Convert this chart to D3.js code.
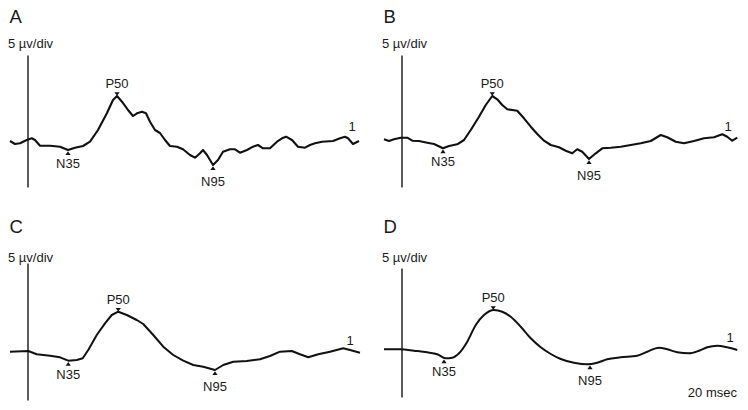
<!DOCTYPE html>
<html>
<head>
<meta charset="utf-8">
<script src="https://cdn.jsdelivr.net/npm/d3@7"></script>
<style>
  html, body { margin: 0; padding: 0; background: #fff; }
  svg { display: block; }
  text { font-family: "Liberation Sans", Arial, sans-serif; fill: #1a1a1a; }
</style>
</head>
<body>
<svg id="chart" width="748" height="410"></svg>
<script>
// ---- Data (time in msec, amplitude in µV) ----
const panelNames = ["A", "B", "C", "D"];
const scaleLabel = "5 µv/div";
const timeLabel = "20 msec";
const peakNames = ["N35", "P50", "N95"];
const traceLabel = "1";

const timeA = [10,12,14,16.7,18.7,20,22,26,30,33.2,36,39.2,42,45.2,48.8,51.2,52.8,54.8,57.2,59.2,60.8,62.8,64.4,66,68,70,72,74,76.8,79.2,82,84,86,87.2,88.8,91.2,93.2,95.2,98,100,102,104.8,107.2,109.2,111.2,114,116.8,118.8,120.4,122.8,125.2,128,130,132,134.8,139.2,142,144,145.2,147.2,149.6];
const ampA  = [0,-0.3,-0.23,0.1,0.27,0.1,-0.47,-0.47,-0.57,-0.9,-0.67,-0.5,-0.07,1.1,2.8,4.1,4.5,3.93,3.1,2.5,2.77,2.93,2.77,1.93,1.1,0.8,0.1,-0.5,-0.57,-0.83,-1.4,-1.67,-1.23,-0.9,-1.4,-2.4,-1.9,-1.07,-0.83,-0.83,-1.17,-0.9,-0.57,-0.4,-0.73,-0.73,-0.07,0.27,0.43,0.1,-0.57,-0.67,-0.4,-0.23,-0.07,0,0.27,0.43,0.27,-0.3,0];

const timeB = [10,12,14,16.7,19.3,21.3,24,27.3,30,33.6,36,39.3,42,44.7,48,50.7,53.3,55.3,57.3,59.3,63.3,66,68.7,71.3,74,76.7,80,82.7,85.3,87.3,89.3,92,94.7,97.3,100.7,104.7,108.7,112.7,116.7,120.7,123.3,126.7,130,134,138,142,145.3,147.3,149.3,151.3];
const ampB  = [0,-0.17,0,0.16,0.16,-0.14,-0.17,-0.34,-0.47,-0.9,-0.67,-0.5,-0.07,0.93,2.26,3.43,4.33,4.0,3.43,3.0,2.86,2.1,1.26,0.53,-0.14,-0.57,-0.8,-1.14,-1.4,-1.0,-1.24,-1.97,-1.4,-0.9,-0.84,-0.74,-0.57,-0.4,-0.17,0.43,0.2,-0.24,-0.4,-0.17,0.1,0.2,0.5,0.26,-0.14,0.16];

const timeC = [10,17.3,20.7,26,30,33.3,36.7,39.1,41.3,44.7,48,50.7,53.3,56.7,60.7,63.3,67.3,71.3,75.3,79.3,83.3,87.3,92,95.3,99.3,104.7,110,114,118,122.7,126,129.3,133.3,138,143.3,146,150];
const ampC  = [0,0.07,-0.26,-0.4,-0.56,-0.9,-0.83,-0.66,0.17,1.67,2.84,3.67,4.0,3.67,3.17,2.77,1.67,0.5,-0.33,-0.9,-1.33,-1.5,-1.83,-1.33,-1.0,-0.93,-0.76,-0.43,0,0.07,-0.26,-0.56,-0.26,0,0.34,0.17,-0.1];

const timeD = [10,16.7,22,27.3,31.3,34.7,37.3,40,43.3,46.7,50,54,57.3,60.7,64.7,68.7,72.7,76.7,80.7,86,91.3,95.3,99.3,104.7,111.3,115.3,120,123.3,127.3,132,136,139.3,143.3,147.3,151.3];
const ampD  = [0,0,-0.14,-0.3,-0.5,-0.9,-0.84,-0.4,0.76,2.43,3.43,3.93,3.76,3.26,2.26,1.1,0.2,-0.47,-0.97,-1.34,-1.5,-1.34,-1.0,-0.8,-0.64,-0.24,0.16,0,-0.3,-0.4,-0.14,0.2,0.36,0.2,-0.07];

// peak latencies / amplitudes in order N35, P50, N95
const peakTimeA = [33.2, 52.8, 91.2];  const peakAmpA = [-0.9, 4.5, -2.4];
const peakTimeB = [33.6, 53.3, 92.0];  const peakAmpB = [-0.9, 4.33, -1.97];
const peakTimeC = [33.3, 53.3, 92.0];  const peakAmpC = [-0.9, 4.0, -1.83];
const peakTimeD = [34.0, 53.7, 92.4];  const peakAmpD = [-0.9, 3.93, -1.5];

// trace number label positions (msec, µV)
const labelTime = [146.8, 147.6, 146.0, 148.4];
const labelAmp  = [1.0, 0.83, 0.67, 0.73];
const axisTime = 17;   // time of the vertical amplitude axis

// ---- Layout ----
const svg = d3.select("#chart");
const layouts = [
  { ox: 0,   oy: 0,   base: 141,   lineTop: 55,  lineBot: 187, curve: d3.curveLinear,  sw: 2.1 },
  { ox: 374, oy: 0,   base: 139.3, lineTop: 55,  lineBot: 187, curve: d3.curveLinear,  sw: 2.1 },
  { ox: 0,   oy: 210, base: 351.7, lineTop: 263, lineBot: 400, curve: d3.curveLinear,  sw: 2.0 },
  { ox: 374, oy: 210, base: 349.3, lineTop: 268, lineBot: 397, curve: d3.curveMonotoneX, sw: 2.0 }
];
const times = [timeA, timeB, timeC, timeD];
const amps = [ampA, ampB, ampC, ampD];
const pTimes = [peakTimeA, peakTimeB, peakTimeC, peakTimeD];
const pAmps = [peakAmpA, peakAmpB, peakAmpC, peakAmpD];

layouts.forEach((L, i) => {
  const x = d3.scaleLinear().domain([6, 146]).range([L.ox, L.ox + 350]);
  const y = d3.scaleLinear().domain([0, 1]).range([L.base, L.base - 10]);
  const g = svg.append("g");

  // panel letter
  g.append("text").attr("x", L.ox + 9.5).attr("y", L.oy + 23)
    .attr("font-size", 18.5).text(panelNames[i]);

  // scale label
  g.append("text").attr("x", L.ox + 8).attr("y", L.oy + (i < 2 ? 48 : 52))
    .attr("font-size", 13).text(scaleLabel);

  // vertical amplitude axis (no ticks)
  const yAxisScale = d3.scaleLinear().domain([0, 1]).range([L.lineBot, L.lineTop]);
  g.append("g")
    .attr("transform", `translate(${x(axisTime)},0)`)
    .call(d3.axisLeft(yAxisScale).tickValues([]).tickSizeOuter(0))
    .call(s => s.select(".domain").attr("stroke", "#333").attr("stroke-width", 1.6));

  // trace
  const pts = times[i].map((t, k) => [t, amps[i][k]]);
  const line = d3.line().x(d => x(d[0])).y(d => y(d[1])).curve(L.curve);
  g.append("path").datum(pts)
    .attr("d", line)
    .attr("fill", "none")
    .attr("stroke", "#111")
    .attr("stroke-width", L.sw)
    .attr("stroke-linejoin", "round");

  // peak markers + labels
  pTimes[i].forEach((t, k) => {
    const px = x(t), py = y(pAmps[i][k]);
    const up = peakNames[k].startsWith("P");
    if (up) {
      g.append("path")
        .attr("d", `M${px - 2.6},${py - 3.8}L${px + 2.6},${py - 3.8}L${px},${py - 0.3}Z`)
        .attr("fill", "#111");
      g.append("text").attr("x", px).attr("y", py - 8)
        .attr("text-anchor", "middle").attr("font-size", 13).text(peakNames[k]);
    } else {
      g.append("path")
        .attr("d", `M${px - 2.6},${py + 5}L${px + 2.6},${py + 5}L${px},${py + 1.3}Z`)
        .attr("fill", "#111");
      g.append("text").attr("x", px).attr("y", py + (k === 0 ? 18 : 20.5))
        .attr("text-anchor", "middle").attr("font-size", 13).text(peakNames[k]);
    }
  });

  // trace number
  g.append("text").attr("x", x(labelTime[i])).attr("y", y(labelAmp[i]))
    .attr("text-anchor", "middle").attr("font-size", 13).text(traceLabel);
});

// time scale label
svg.append("text").attr("x", 737).attr("y", 397)
  .attr("text-anchor", "end").attr("font-size", 13).text(timeLabel);
</script>
</body>
</html>
